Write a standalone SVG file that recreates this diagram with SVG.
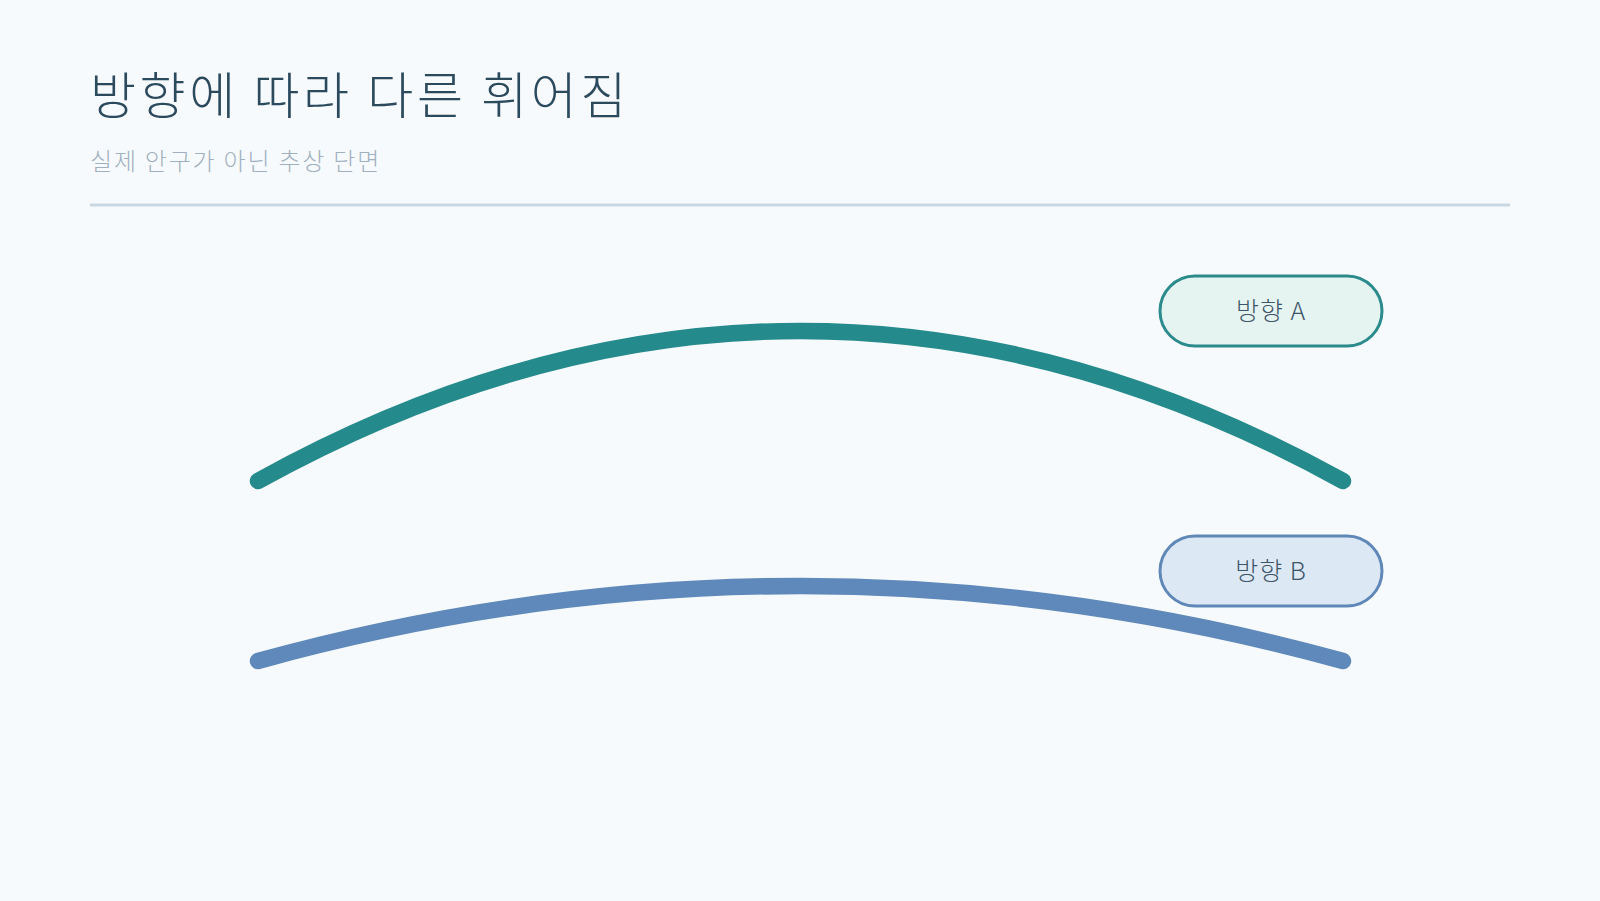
<svg xmlns="http://www.w3.org/2000/svg" width="1600" height="901" viewBox="0 0 1600 901">
<style>
.title{font-family:"Noto Sans CJK KR","Noto Sans",sans-serif;font-weight:200;font-size:50px;letter-spacing:3.6px;fill:#2c4a5e}
.sub{font-family:"Noto Sans CJK KR","Noto Sans",sans-serif;font-weight:200;font-size:24px;letter-spacing:1.8px;fill:#9fb0c0}
.lbl{font-family:"Noto Sans CJK KR","Noto Sans",sans-serif;font-weight:200;font-size:25px;letter-spacing:1px;fill:#3e5568;text-anchor:middle;dominant-baseline:central}
.curve{fill:none;stroke-width:16.5;stroke-linecap:round}
</style>
<rect width="1600" height="901" fill="#f7fafc"/>
<text class="title" x="90" y="114">방향에 따라 다른 휘어짐</text>
<text class="sub" x="90" y="170">실제 안구가 아닌 추상 단면</text>
<line x1="90" y1="205" x2="1510" y2="205" stroke="#c9d6e3" stroke-width="3"/>
<g id="connectors">
<path id="curveA" class="curve" stroke="#248a8c" d="M258,481 Q800.5,181 1343,481"/>
<path id="curveB" class="curve" stroke="#5f89bb" d="M258,661 Q800.5,511 1343,661"/>
</g>
<g id="nodeA">
<rect x="1160" y="276" width="222" height="70" rx="35" fill="#e5f4f1" stroke="#2a8a8c" stroke-width="3"/>
<text class="lbl" x="1271" y="309">방향 A</text>
</g>
<g id="nodeB">
<rect x="1160" y="536" width="222" height="70" rx="35" fill="#dde8f5" stroke="#5f88b8" stroke-width="3"/>
<text class="lbl" x="1271" y="569">방향 B</text>
</g>
</svg>
